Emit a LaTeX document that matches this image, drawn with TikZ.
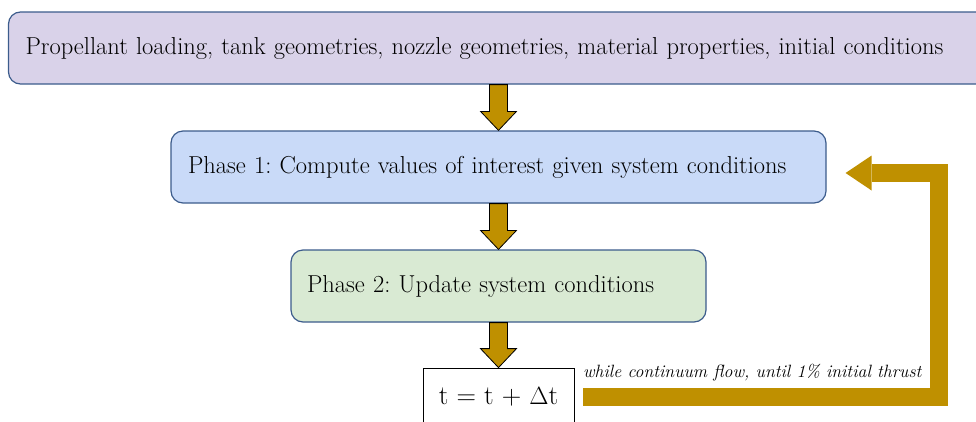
\documentclass[tikz,border=0pt]{standalone}
\usepackage{tikz}
\usetikzlibrary{arrows.meta, positioning, calc}
\definecolor{fcPurple}{RGB}{217,210,233}
\definecolor{fcBlue}{RGB}{201,218,248}
\definecolor{fcGreen}{RGB}{217,234,211}
\definecolor{fcEdge}{RGB}{60,92,140}
\definecolor{fcGold}{RGB}{191,144,0}
\frenchspacing

% fat outlined arrow from the bottom of one box to the top of the next
\newcommand{\blockarrow}[2]{%
  \draw[blockarr] ($(#1.south)+(-9,0)$) -- ($(#2.north)+(-9,-19)$)
    -- ($(#2.north)+(-18,-19)$) -- (#2.north)
    -- ($(#2.north)+(18,-19)$) -- ($(#2.north)+(9,-19)$)
    -- ($(#1.south)+(9,0)$) -- cycle;}

\begin{document}
\begin{tikzpicture}[
    x=1pt, y=-1pt,
    font=\fontsize{24.5}{28}\selectfont,
    stage/.style={draw=fcEdge, line width=1.2pt, rounded corners=12pt,
                align=left, minimum height=72pt, inner ysep=4pt},
    inputs/.style={stage, fill=fcPurple, text width=946pt, inner xsep=17pt},
    phaseone/.style={stage, fill=fcBlue, text width=621pt, inner xsep=17pt},
    phasetwo/.style={stage, fill=fcGreen, text width=383pt, inner xsep=16pt},
    tstep/.style={draw=black, line width=0.8pt, fill=white,
                minimum width=151pt, minimum height=58pt,
                font=\fontsize{27}{30}\selectfont},
    blockarr/.style={draw=black, line width=0.8pt, fill=fcGold},
    looparr/.style={draw=fcGold, line width=18pt,
                -{Triangle[length=26pt, width=35pt, line width=0pt]}},
    looplbl/.style={font=\fontsize{17.8}{21}\selectfont\itshape}
]
\path[use as bounding box, clip] (0,0) rectangle (976,421);

% Stacked stages, all centred on the same column
\node[inputs] (in) at (498.5,48)
    {Propellant loading, tank geometries, nozzle geometries, material properties, initial conditions};
\node[phaseone] (p1) at (498.5,167)
    {Phase 1: Compute values of interest given system conditions};
\node[phasetwo] (p2) at (498.5,286)
    {Phase 2: Update system conditions};
\node[tstep] (ts) at (498.5,397) {t = t + $\Delta$t};

% Downward block arrows
\blockarrow{in}{p1}
\blockarrow{p1}{p2}
\blockarrow{p2}{ts}

% Time-step loop back to phase 1
\coordinate (bend) at (938.5,173);
\draw[looparr] ($(ts.east)+(9,0)$) -| (bend) -- ($(p1.east)+(19,6)$);
\node[looplbl, anchor=base east] (cond) at (925,377)
    {while continuum flow, until 1\% initial thrust};

\end{tikzpicture}
\end{document}
